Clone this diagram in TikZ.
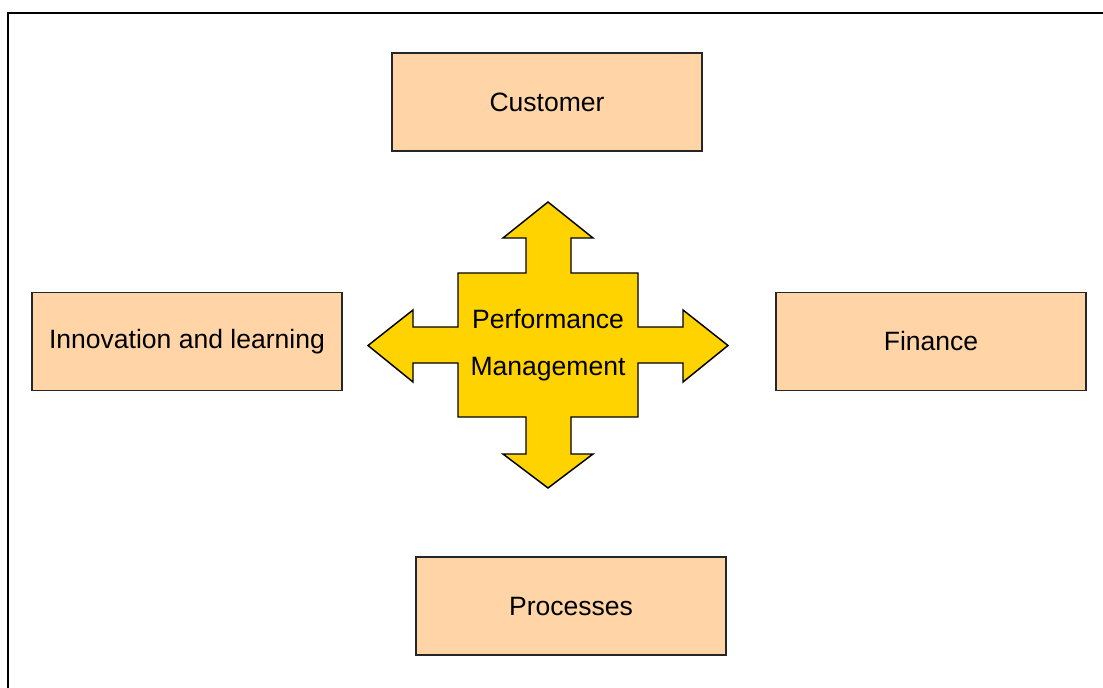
\documentclass[tikz,border=0pt]{standalone}
\usepackage{fontspec}
\setmainfont{Liberation Sans}
\definecolor{peach}{HTML}{FFD5A8}
\definecolor{gold}{HTML}{FFD300}
\tikzset{
  area/.style={draw=black!85, line width=0.9pt, fill=peach, minimum width=232.5pt,
    minimum height=73.5pt, inner sep=0pt, font=\fontsize{19.9}{24}\selectfont},
}
\begin{document}
\begin{tikzpicture}[x=0.75pt,y=-0.75pt]
\useasboundingbox (0,0) rectangle (1103,688);
% frame
\draw [line width=1.5pt] (8,688) -- (8,13) -- (1103,13) ;
% four boxes
\node [area] (customer) at (547,102) {Customer} ;
\node [area] (innovation) at (187,341.5) {Innovation and learning} ;
\node [area] (finance) at (931,341.5) {Finance} ;
\node [area] (processes) at (571,606) {Processes} ;
% the cross shaped arrow
\draw [fill=gold, line width=1.1pt, line join=miter]
(548,202) -- (593,238) -- (571,238) -- (571,273) -- (638,273) -- (638,327)
-- (683,327) -- (683,310) -- (728,345.5) -- (683,382) -- (683,363) -- (638,363)
-- (638,417) -- (571,417) -- (571,454) -- (593,454) -- (548,488) -- (503,454)
-- (526,454) -- (526,417) -- (458,417) -- (458,363) -- (413,363) -- (413,382)
-- (368,345.5) -- (413,310) -- (413,327) -- (458,327) -- (458,273) -- (526,273)
-- (526,238) -- (503,238) -- cycle ;
\node [align=center, font=\fontsize{19.9}{35.3}\selectfont] (pm) at (548,345)
{Performance\\Management} ;
\end{tikzpicture}
\end{document}
